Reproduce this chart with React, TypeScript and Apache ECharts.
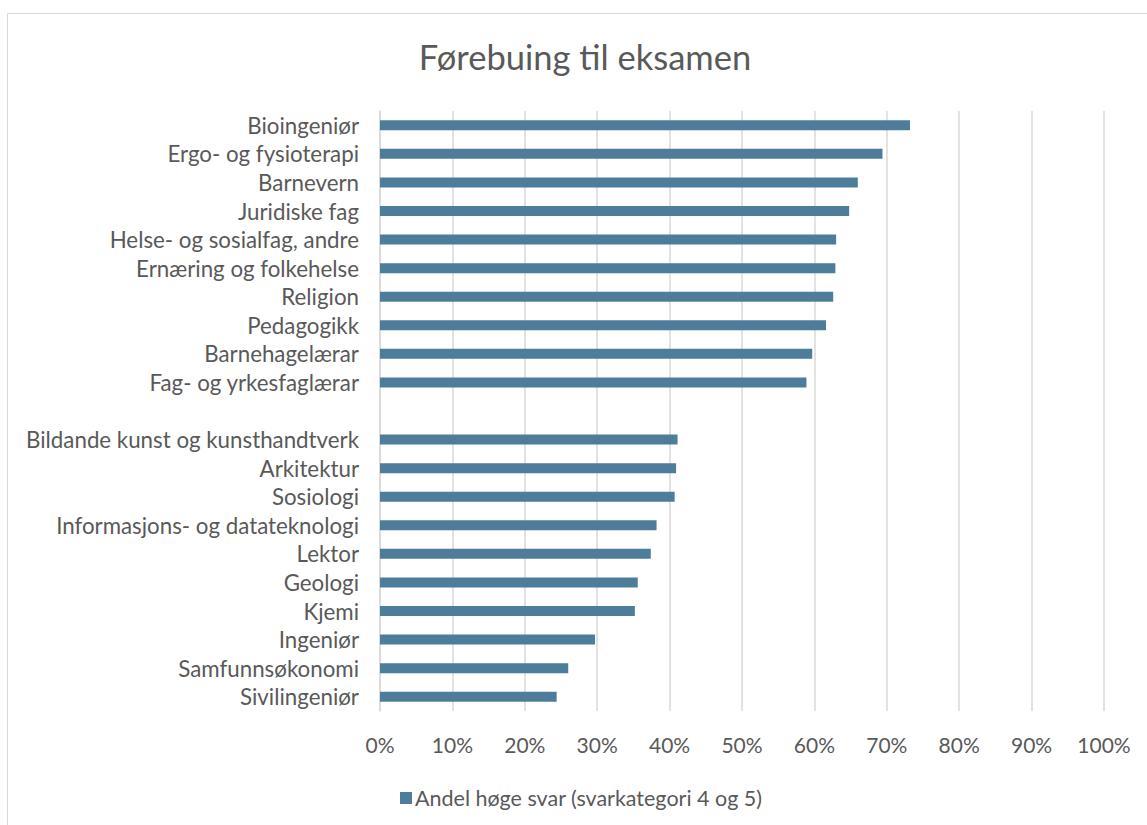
import React, { useEffect, useRef } from "react";
import * as echarts from "echarts";

const categories: string[] = [
  "Bioingeniør",
  "Ergo- og fysioterapi",
  "Barnevern",
  "Juridiske fag",
  "Helse- og sosialfag, andre",
  "Ernæring og folkehelse",
  "Religion",
  "Pedagogikk",
  "Barnehagelærar",
  "Fag- og yrkesfaglærar",
  "",
  "Bildande kunst og kunsthandtverk",
  "Arkitektur",
  "Sosiologi",
  "Informasjons- og datateknologi",
  "Lektor",
  "Geologi",
  "Kjemi",
  "Ingeniør",
  "Samfunnsøkonomi",
  "Sivilingeniør",
];

const values: (number | null)[] = [
  73.2, 69.4, 66.0, 64.8, 63.0, 62.9, 62.6, 61.6, 59.7, 58.9,
  null,
  41.1, 40.9, 40.7, 38.2, 37.4, 35.6, 35.2, 29.7, 26.0, 24.4,
];

const seriesName = "Andel høge svar (svarkategori 4 og 5)";
const titleText = "Førebuing til eksamen";

const FONT = "Lato, 'Noto Sans', sans-serif";
const TEXT = "#595959";
const BAR = "#4E7D9B";

export default function App() {
  const ref = useRef<HTMLDivElement>(null);
  useEffect(() => {
    if (!ref.current) return;
    const chart = echarts.init(ref.current, undefined, { renderer: "svg" });
    chart.setOption({
      animation: false,
      backgroundColor: "#ffffff",
      textStyle: { fontFamily: FONT },
      title: {
        text: titleText,
        left: 580,
        top: 34,
        textAlign: "center",
        textStyle: { fontFamily: FONT, fontSize: 34.5, fontWeight: "normal", color: TEXT },
      },
      graphic: [
        {
          type: "rect",
          shape: { x: 7.5, y: 13.5, width: 1300, height: 1000 },
          style: { fill: "none", stroke: "#d9d9d9", lineWidth: 1 },
          silent: true,
          z: -10,
        },
      ],
      legend: {
        left: 395,
        top: 782,
        itemWidth: 12,
        itemHeight: 12,
        icon: "rect",
        itemGap: 6,
        textStyle: { fontFamily: FONT, fontSize: 21.5, color: TEXT, padding: [0, 0, 0, -2] },
        data: [seriesName],
      },
      grid: { left: 380, right: 43, top: 111, bottom: 114, containLabel: false },
      xAxis: {
        type: "value",
        min: 0,
        max: 100,
        interval: 10,
        axisLine: { show: false },
        axisTick: { show: false },
        splitLine: { show: true, lineStyle: { color: "#d9d9d9", width: 1.5 } },
        axisLabel: {
          formatter: "{value}%",
          fontFamily: FONT,
          fontSize: 21,
          color: TEXT,
          margin: 23,
        },
      },
      yAxis: {
        type: "category",
        inverse: true,
        data: categories,
        axisLine: { show: true, lineStyle: { color: "#d9d9d9", width: 1.5 } },
        axisTick: { show: false },
        axisLabel: { interval: 0, fontFamily: FONT, fontSize: 22.3, color: TEXT, margin: 21 },
      },
      series: [
        {
          name: seriesName,
          type: "bar",
          data: values,
          barWidth: 10,
          itemStyle: { color: BAR },
        },
      ],
    });
    return () => chart.dispose();
  }, []);
  return (
    <div
      ref={ref}
      style={{ position: "absolute", left: 0, top: 0, width: 1147, height: 825 }}
    />
  );
}
